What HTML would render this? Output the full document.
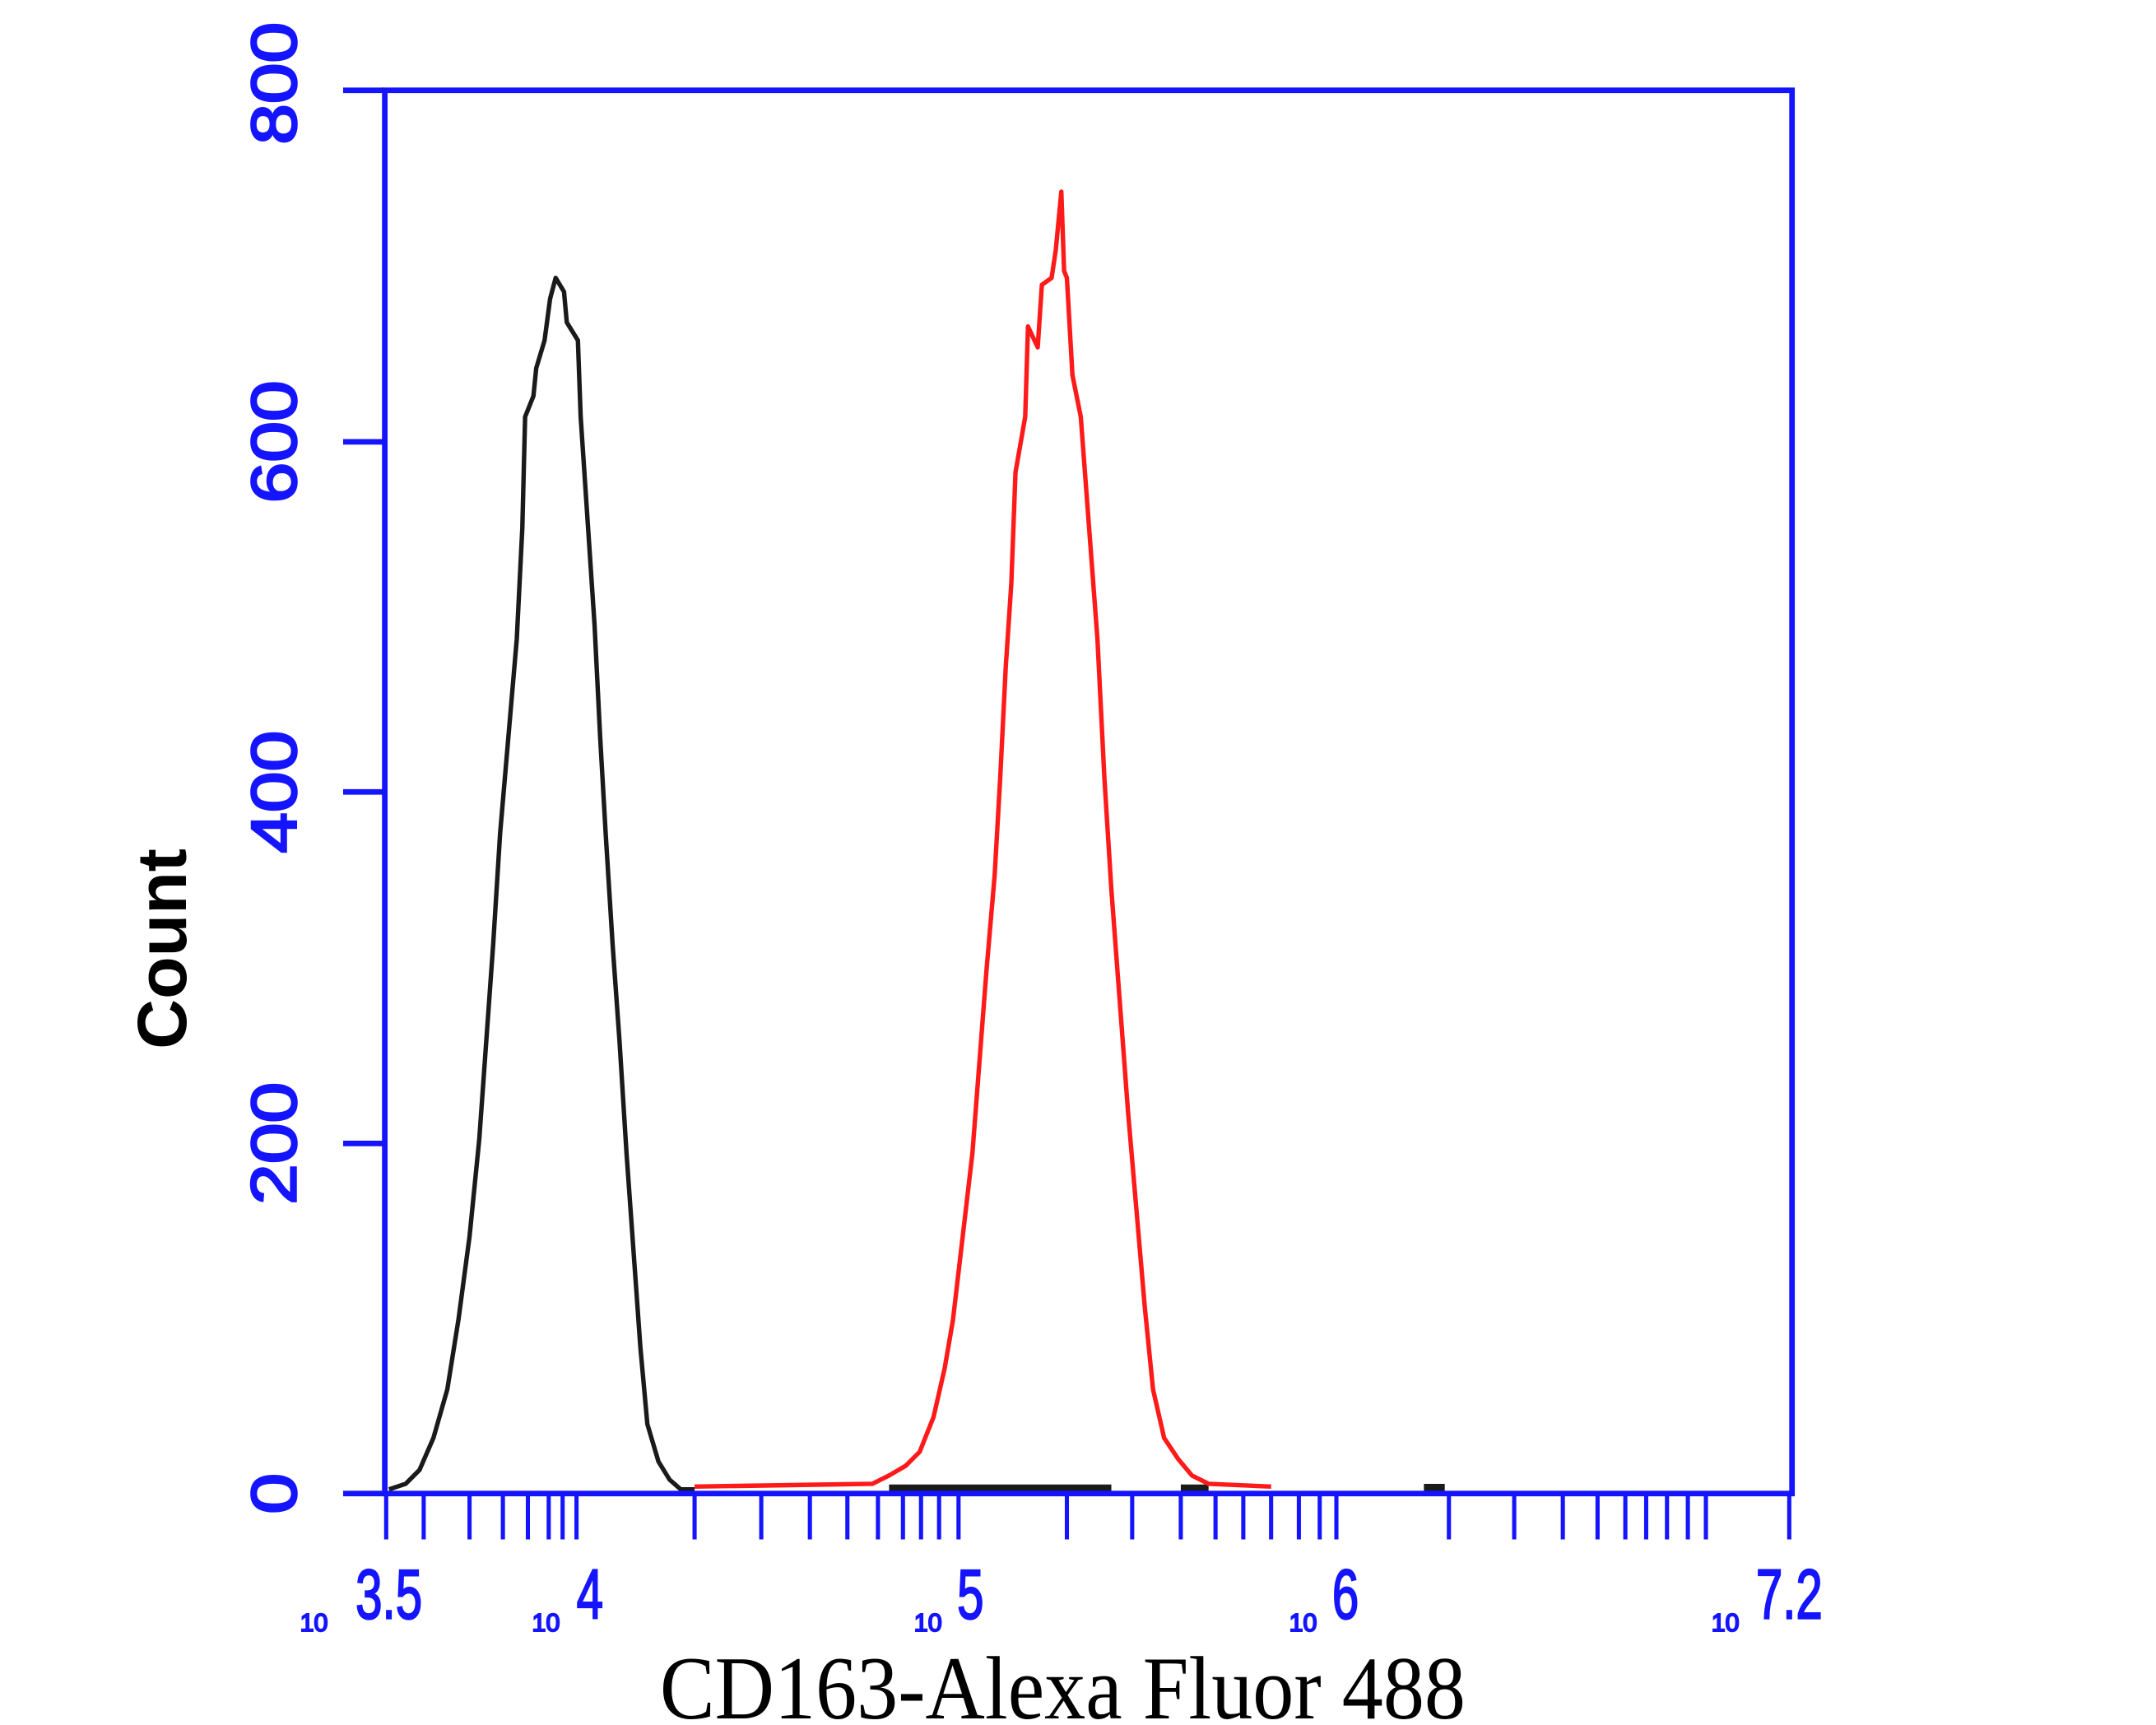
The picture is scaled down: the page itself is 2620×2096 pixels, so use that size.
<!DOCTYPE html>
<html><head><style>html,body{margin:0;padding:0;background:#fff;}svg{display:block}</style></head>
<body>
<svg width="2620" height="2096" viewBox="0 0 1552 1241.6" preserveAspectRatio="none" xmlns="http://www.w3.org/2000/svg">
<rect width="1552" height="1242" fill="#fff"/>
<polyline fill="none" stroke="#1a1a1a" stroke-width="3.2" stroke-linejoin="round" points="280,1072 292,1068 302,1058 312,1035 322,1000 330,950 338,890 345,820 350,750 355,680 360,600 366,530 372,460 376,380 378,300 384,285 386,265 392,245 396,215 400,200 406,210 408,232 416,245 418,300 422,360 428,450 432,530 436,600 441,680 446,750 451,830 456,900 461,970 466,1025 474,1052 482,1065 490,1072 500,1072"/>
<line x1="640" y1="1071" x2="800" y2="1071" stroke="#1a1a1a" stroke-width="5"/>
<line x1="850" y1="1071" x2="870" y2="1071" stroke="#1a1a1a" stroke-width="5"/>
<line x1="1025" y1="1071" x2="1040" y2="1071" stroke="#1a1a1a" stroke-width="6"/>
<polyline fill="none" stroke="#ff1a1a" stroke-width="3.2" stroke-linejoin="round" points="500,1070 628,1068 640,1062 652,1055 662,1045 672,1020 680,985 686,950 693,890 700,830 705,765 710,700 716,630 720,560 724,480 728,420 731,340 738,300 740,235 747,250 750,205 757,200 760,180 764,138 766,195 768,200 772,270 778,300 784,380 790,460 795,560 800,640 806,720 812,800 818,870 824,940 830,1000 838,1035 848,1050 858,1062 870,1068 915,1070"/>
<rect x="277" y="65" width="1013" height="1010" fill="none" stroke="#1414ff" stroke-width="4"/>
<g stroke="#1414ff" stroke-width="4">
<line x1="247" y1="65" x2="277" y2="65"/>
<line x1="247" y1="318" x2="277" y2="318"/>
<line x1="247" y1="570" x2="277" y2="570"/>
<line x1="247" y1="823" x2="277" y2="823"/>
<line x1="247" y1="1075" x2="277" y2="1075"/>
</g>
<g stroke="#1414ff" stroke-width="3">
<path d="M278 1075V1108M305 1075V1108M338 1075V1108M362 1075V1108M380 1075V1108M395 1075V1108M405 1075V1108M415 1075V1108M500 1075V1108M548 1075V1108M583 1075V1108M610 1075V1108M632 1075V1108M650 1075V1108M663 1075V1108M676 1075V1108M690 1075V1108M768 1075V1108M815 1075V1108M850 1075V1108M875 1075V1108M895 1075V1108M915 1075V1108M935 1075V1108M950 1075V1108M962 1075V1108M1043 1075V1108M1090 1075V1108M1125 1075V1108M1150 1075V1108M1170 1075V1108M1185 1075V1108M1200 1075V1108M1215 1075V1108M1228 1075V1108M1288 1075V1108"/>
</g>
<g fill="#1414ff" font-family="Liberation Sans, sans-serif" font-size="46" text-anchor="middle" stroke="#1414ff" stroke-width="1.5">
<text transform="translate(213,60) rotate(-90) scale(1.15,1)">800</text>
<text transform="translate(213,318) rotate(-90) scale(1.15,1)">600</text>
<text transform="translate(213,570) rotate(-90) scale(1.15,1)">400</text>
<text transform="translate(213,823) rotate(-90) scale(1.15,1)">200</text>
<text transform="translate(213,1075) rotate(-90) scale(1.15,1)">0</text>
</g>
<g fill="#1414ff" font-family="Liberation Sans, sans-serif" stroke="#1414ff" stroke-width="1.2">
<text x="216" y="1174" font-size="18">10</text><text transform="translate(256,1165) scale(0.75,1.1)" font-size="46">3.5</text>
<text x="383" y="1174" font-size="18">10</text><text transform="translate(415,1165) scale(0.75,1.1)" font-size="46">4</text>
<text x="658" y="1174" font-size="18">10</text><text transform="translate(689,1165) scale(0.75,1.1)" font-size="46">5</text>
<text x="928" y="1174" font-size="18">10</text><text transform="translate(959,1165) scale(0.75,1.1)" font-size="46">6</text>
<text x="1232" y="1174" font-size="18">10</text><text transform="translate(1264,1165) scale(0.75,1.1)" font-size="46">7.2</text>
</g>
<text transform="translate(134,683) rotate(-90)" text-anchor="middle" font-family="Liberation Sans, sans-serif" font-size="50" font-weight="bold" fill="#000">Count</text>
<text transform="translate(765,1237) scale(1,1.2)" text-anchor="middle" font-family="Liberation Serif, serif" font-size="54" fill="#000" textLength="580" lengthAdjust="spacingAndGlyphs">CD163-Alexa Fluor 488</text>
</svg>
</body></html>
